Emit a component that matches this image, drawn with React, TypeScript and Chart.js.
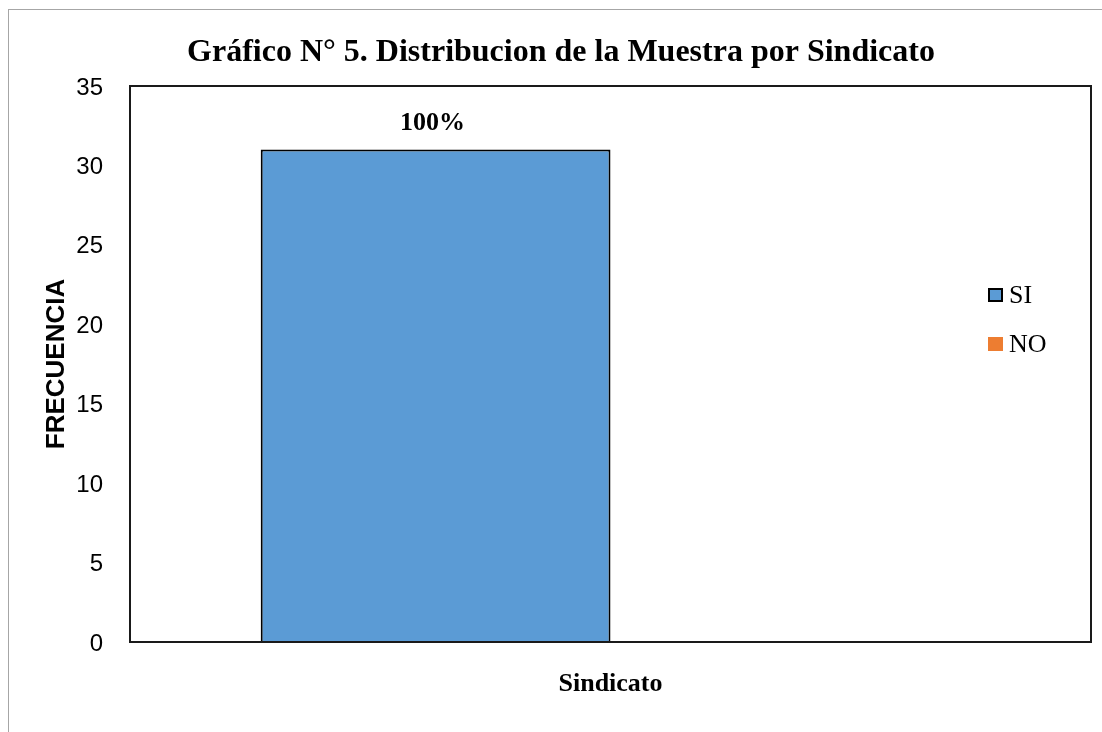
import React, { useEffect, useRef } from "react";
import { Chart, registerables } from "chart.js";

Chart.register(...registerables);

const categories = ["Sindicato"];
const seriesNames = ["SI", "NO"];
const siValues = [31];
const noValues = [0];
const siLabels = ["100%"];
const noLabels = [""];
const yTicks = { min: 0, max: 35, step: 5 };
const chartTitle = "Gráfico N° 5. Distribucion de la Muestra por Sindicato";
const yAxisTitle = "FRECUENCIA";

const BLUE = "#5B9BD5";
const ORANGE = "#ED7D31";
const SERIF = "'Liberation Serif', 'Times New Roman', serif";
const SANS = "'Liberation Sans', Arial, sans-serif";

const framePlugin = {
  id: "frame",
  beforeDraw(chart: any) {
    const { ctx } = chart;
    ctx.save();
    ctx.fillStyle = "#ffffff";
    ctx.fillRect(0, 0, chart.width, chart.height);
    ctx.strokeStyle = "#A6A6A6";
    ctx.lineWidth = 1;
    ctx.strokeRect(8.5, 9.5, chart.width + 20, chart.height + 20);
    // title
    ctx.fillStyle = "#000";
    ctx.font = `bold 32px ${SERIF}`;
    ctx.textAlign = "center";
    ctx.textBaseline = "alphabetic";
    ctx.fillText(chartTitle, 561, 61);
    ctx.restore();
  },
  afterDatasetsDraw(chart: any) {
    const { ctx, chartArea } = chart;
    ctx.save();
    // data labels
    ctx.fillStyle = "#000";
    ctx.font = `bold 26px ${SERIF}`;
    ctx.textAlign = "center";
    ctx.textBaseline = "alphabetic";
    chart.data.datasets.forEach((ds: any, di: number) => {
      const meta = chart.getDatasetMeta(di);
      meta.data.forEach((el: any, i: number) => {
        const txt = ds.dataLabels ? ds.dataLabels[i] : "";
        if (txt) ctx.fillText(txt, el.x - 3, el.y - 20);
      });
    });
    // plot border
    ctx.strokeStyle = "#1a1a1a";
    ctx.lineWidth = 2;
    ctx.strokeRect(chartArea.left, chartArea.top, chartArea.right - chartArea.left, chartArea.bottom - chartArea.top);
    // legend
    const lx = 988;
    const ly = [288, 337];
    chart.data.datasets.forEach((ds: any, di: number) => {
      const y = ly[di];
      ctx.fillStyle = ds.backgroundColor;
      ctx.fillRect(lx, y, 15, 14);
      if (ds.borderWidth > 0) {
        ctx.strokeStyle = "#000";
        ctx.lineWidth = 2;
        ctx.strokeRect(lx + 1, y + 1, 13, 12);
      }
      ctx.fillStyle = "#000";
      ctx.font = `26px ${SERIF}`;
      ctx.textAlign = "left";
      ctx.textBaseline = "alphabetic";
      ctx.fillText(ds.label, lx + 21, y + 15);
    });
    ctx.restore();
  },
};

export default function App() {
  const ref = useRef<HTMLCanvasElement | null>(null);
  useEffect(() => {
    if (!ref.current) return;
    const chart = new Chart(ref.current, {
      type: "bar",
      data: {
        labels: categories,
        datasets: [
          {
            label: seriesNames[0],
            data: siValues,
            backgroundColor: BLUE,
            borderColor: "#000",
            borderWidth: 2,
            dataLabels: siLabels,
          } as any,
          {
            label: seriesNames[1],
            data: noValues,
            backgroundColor: ORANGE,
            borderColor: "#000",
            borderWidth: 0,
            dataLabels: noLabels,
          } as any,
        ],
      },
      options: {
        responsive: false,
        animation: false,
        layout: { padding: { top: 86, right: 11, bottom: 0, left: 0 } },
        datasets: { bar: { categoryPercentage: 0.728, barPercentage: 1 } },
        plugins: { legend: { display: false }, tooltip: { enabled: false }, title: { display: false } },
        scales: {
          x: {
            grid: { display: false, drawTicks: false },
            border: { display: false },
            ticks: { color: "#000", font: { family: SERIF, size: 26, weight: "bold" }, padding: 27 },
            afterFit(s: any) { s.height = 90; },
          },
          y: {
            min: yTicks.min,
            max: yTicks.max,
            grid: { display: false, drawTicks: false },
            border: { display: false },
            ticks: { stepSize: yTicks.step, color: "#000", font: { family: SANS, size: 24 }, padding: 27, labelOffset: 2 },
            title: {
              display: true,
              text: yAxisTitle,
              color: "#000",
              font: { family: SANS, size: 26, weight: "bold" },
              padding: { top: 41, bottom: 0 },
            },
            afterFit(s: any) { s.width = 130; },
          },
        },
      },
      plugins: [framePlugin],
    } as any);
    return () => chart.destroy();
  }, []);
  return (
    <div style={{ position: "fixed", left: 0, top: 0, width: 1102, height: 732, background: "#fff" }}>
      <canvas ref={ref} width={1102} height={732} style={{ display: "block" }} />
    </div>
  );
}
